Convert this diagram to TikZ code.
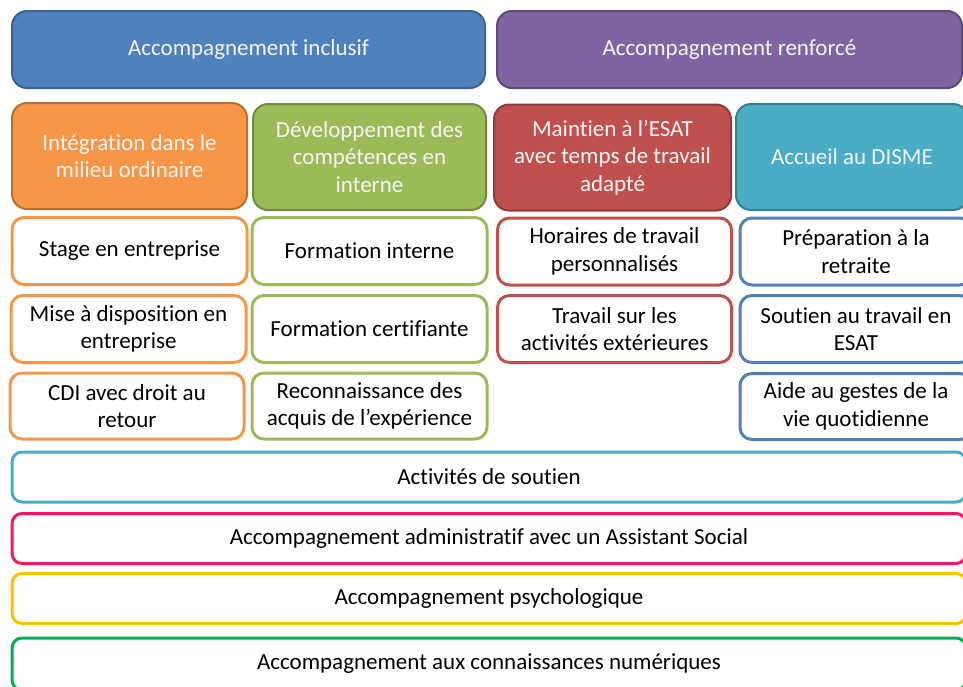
\documentclass[tikz,border=0pt]{standalone}
\usepackage{fontspec}
\setmainfont{Carlito}[RawFeature={-liga,-clig,-dlig}]
\definecolor{cblue}{HTML}{4F81BD}
\definecolor{cblueD}{HTML}{3A6596}
\definecolor{cpurple}{HTML}{8064A2}
\definecolor{cpurpleD}{HTML}{5E4A7A}
\definecolor{corange}{HTML}{F79646}
\definecolor{corangeD}{HTML}{B9702F}
\definecolor{cgreen}{HTML}{9BBB59}
\definecolor{cgreenD}{HTML}{728B40}
\definecolor{cred}{HTML}{C0504D}
\definecolor{credD}{HTML}{8E3A37}
\definecolor{cteal}{HTML}{4BACC6}
\definecolor{ctealD}{HTML}{368093}
\definecolor{cpink}{HTML}{FF1466}
\definecolor{cyellow}{HTML}{FFC000}
\definecolor{cgreenB}{HTML}{00B050}
\begin{document}
\begin{tikzpicture}[x=1pt,y=-1pt,
  every node/.style={font=\fontsize{23}{27.5}\selectfont, align=center, inner sep=0pt},
  head/.style={draw=#1D, fill=#1, line width=2pt, rounded corners=15pt, text=white!96!black},
  item/.style={draw=#1, fill=white, line width=3pt, rounded corners=12pt, text=black},
  bar/.style={draw=#1, fill=white, line width=3pt, rounded corners=10pt, text=black,
    minimum width=954pt, minimum height=50pt}]
\useasboundingbox (0,0) rectangle (963,686);
\clip (0,0) rectangle (963,686);

% top level headers
\node[head=cblue, minimum width=473pt, minimum height=77pt] (inclusif) at (248.5,49.5) {Accompagnement inclusif};
\node[head=cpurple, minimum width=465pt, minimum height=77pt] (renforce) at (729.5,49.5) {Accompagnement renforcé};

% second level headers
\node[head=corange, minimum width=235pt, minimum height=106pt] (integ) at (129.5,156) {Intégration dans le\\milieu ordinaire};
\node[head=cgreen, minimum width=233pt, minimum height=106pt] (devel) at (369.5,157) {Développement des\\compétences en\\interne};
\node[head=cred, minimum width=237pt, minimum height=106pt] (maint) at (612.5,157.5) {Maintien à l’ESAT\\avec temps de travail\\adapté};
\node[head=cteal, minimum width=232pt, minimum height=106pt] (disme) at (852,157) {Accueil au DISME};

% orange column
\node[item=corange, minimum width=235pt, minimum height=67pt] (stage) at (129.5,251) {Stage en entreprise};
\node[item=corange, minimum width=235pt, minimum height=67pt] (mise) at (128.5,329) {Mise à disposition en\\entreprise};
\node[item=corange, minimum width=234pt, minimum height=66pt] (cdi) at (127,406) {CDI avec droit au\\retour};

% green column
\node[item=cgreen, minimum width=235pt, minimum height=67pt] (forint) at (369.5,251) {Formation interne};
\node[item=cgreen, minimum width=235pt, minimum height=67pt] (forcert) at (369.5,329) {Formation certifiante};
\node[item=cgreen, minimum width=235pt, minimum height=66pt] (vae) at (369.5,406) {Reconnaissance des\\acquis de l’expérience};

% red column
\node[item=cred, minimum width=234pt, minimum height=67pt] (horaires) at (614.5,251.5) {Horaires de travail\\personnalisés};
\node[item=cred, minimum width=234pt, minimum height=67pt] (exter) at (614.5,329) {Travail sur les\\activités extérieures};

% blue column
\node[item=cblue, minimum width=232pt, minimum height=67pt] (retraite) at (856,251.5) {Préparation à la\\retraite};
\node[item=cblue, minimum width=232pt, minimum height=67pt] (soutien) at (856,329) {Soutien au travail en\\ESAT};
\node[item=cblue, minimum width=232pt, minimum height=66pt] (gestes) at (856,406.5) {Aide au gestes de la\\vie quotidienne};

% full-width bars
\node[bar=cteal] (activites) at (489,477) {Activités de soutien};
\node[bar=cpink] (admin) at (489,538.5) {Accompagnement administratif avec un Assistant Social};
\node[bar=cyellow] (psy) at (489,598.5) {Accompagnement psychologique};
\node[bar=cgreenB, minimum height=52pt] (numerique) at (489,664) {Accompagnement aux connaissances numériques};
\end{tikzpicture}
\end{document}
